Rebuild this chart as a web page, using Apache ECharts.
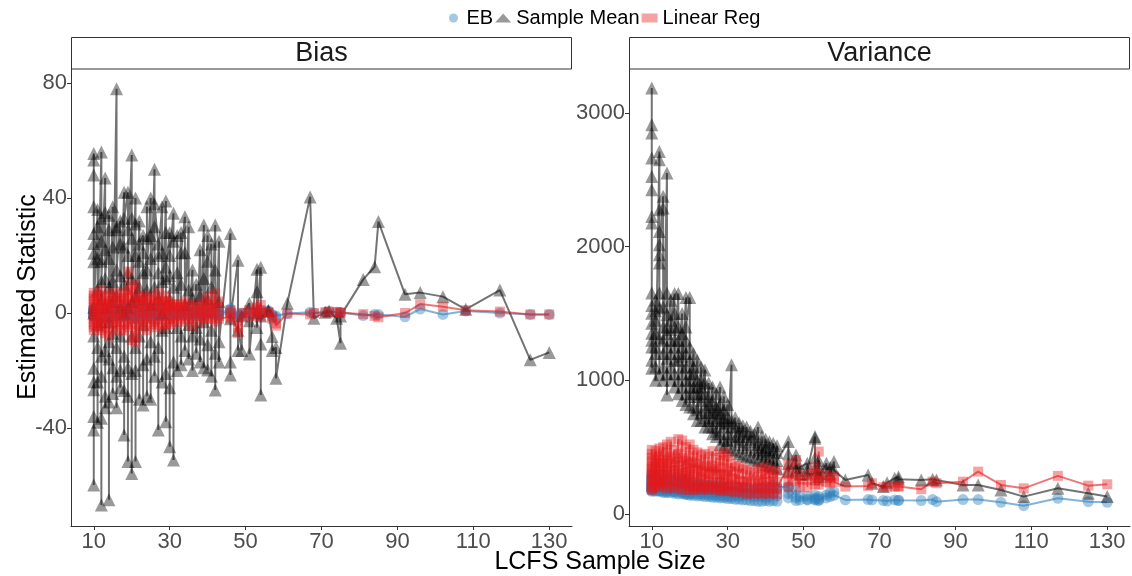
<!DOCTYPE html>
<html><head><meta charset="utf-8">
<script src="https://cdn.jsdelivr.net/npm/echarts@6/dist/echarts.min.js"></script>
<style>html,body{margin:0;padding:0;background:#fff}#c{width:1132px;height:576px}</style>
</head><body><div id="c"></div><script>
// LCFS sample size of each group of areas
const sampleSizes = [10,11,12,13,14,15,16,17,18,19,
 20,21,22,23,24,25,26,27,28,29,
 30,31,32,33,34,35,36,37,38,39,
 40,41,42,43,46,48,49,51,53,54,56,57,58,61,
 67,68,71,72,74,75,81,84,85,92,96,102,108,117,125,130];
const xTicks = [10,30,50,70,90,110,130];
const biasTicks = [-40,0,40,80];
const varTicks = [0,1000,2000,3000];

// ---- Bias panel ----
const biasEB = [
 [1,-1,0.5,-1.5,1.5,0,-0.5,0.8,-1.2,0.3,1.2,-0.8,1.8,-0.2],[1,-0.8,0.3,-1.2,1.4,-0.3,0.6],[1.3,-1.5,0.8,-0.5,1.8,0,-1,0.5,-0.3],[0.8,-1.2,1.2,-0.5,0.3,-1.6,0.5],[1,-1.8,0.5,-0.7,1.4,0,-0.3,0.8],[1.2,-1,0.3,-1.4,0.8,-0.2,1.6],[1.4,-0.7,0.5,-1.2,0,1,-0.5],[1,-1.4,0.7,-0.3,1.6,0,-0.7],[1.2,-1,0.7,-0.2,1.4,-1.4,0.3],[2.5,-0.7,1.2,-1.2,0.5,0,1.8],
 [1.4,-2,0.7,-1,0.3,2,-0.5],[2,-2.2,1,-1.4,0.5,-0.2,-1.8],[1.2,-1,0.5,-0.5,1.4,0],[1,-1.2,0.3,-0.7,0.7,0,1.4],[1.2,-1.4,0.5,-0.5,1,-0.2],[0.7,-1,0.3,-0.5,1.4,0],[1,-0.7,0.5,-1.2,0.3,1.2],[1.2,-1,0,-0.5,0.7,1.6],[0.7,-1.2,0.5,-0.2,1,0],[1.4,-0.7,0.3,-1,0.5,0,1],
 [1,-1,0.5,-0.5,0.3,0.7],[0.7,-0.5,0.3,-0.7,0.5],[0.5,-0.7,0,0.7],[0.7,-0.5,0.3,-0.3,0.5],[0.5,-0.7,0.3,1],[0.7,-0.3,0,-0.5],[0.5,-1.2,0.3,-0.5],[0.7,-0.3,0],[0.5,-0.7,0.3,0],[1,-0.5,0.3,-0.3],
 [1.4,-0.5,0.5,0,0.7],[0.7,-0.5,0.3,0],[1.6,-0.7,0.5,0],[1,-0.3,0.5,-0.5],[1,0.5,0,1.5],[-1.5,-1,-0.5],[0,-0.3],[0,-0.3,0.3],[0.5,0,-0.3,0.5],[0.8,0,-0.3,0.3],[0.8,0.5],[-0.5,-0.8],[-1,-1.6],[-0.2],
 [0.3],[0],[0.3],[0.5],[0.3],[0.2,0.1],[-0.9],[-0.5],[-0.5],[-1.3],[1.4],[-0.5],[0.7],[0],[-0.5],[-0.5]
];
const biasSM = [
 [55.5,-8,53.2,20.8,-59.8,48,37,-19.2,27.7,-36,24.2,-23.9,17.8,2,-40.7,-26.7,0],[36,-12,19,-24,8,-38,30,-4],[56,-15,18,-66.8,33,-36.6,25,-22,5,-3,11],[47,-13,22,-29,35,2,-33,12],[34,-65,29,-16,9,-31,-3,19,-10],[37,-28,23,4,-19,11,-7],[78,-33,29,6,-22,30,-12,15],[32,-20,24,13,-8,-26,2],[42,-42.4,23,-15,10,-27,0,33],[42,-51.7,29,-19,14,2,-29,20],
 [55,-55.8,33,12,-21,26,-8,4],[40,-51.7,20,-20,6,31,-12],[32,-30,18,-8,9,24],[27,-32,14,-18,5,21,-4],[26,-16,37,8,-29,15],[40,-30,19,-10,27,3],[50,-22,30,9,-15,38],[24,-40.7,14,-12,5,20],[37,-24,21,-6,11,0],[39,-37.8,12,-21,28,-5,16],
 [28,-46.5,13,-26,5,20],[34.7,-51.1,9,-17,25],[27,-20,14,-5],[28,-18,10,-8,21],[33.5,-13,21,3],[30,-16,8,-4],[15,-20,5,-8],[10,-5,-14],[22,-17,6,-9],[30.6,-19,12,-3],
 [27,-19.8,5,-11,18],[24,-22,9,-6],[30.6,-26.8,15,-14],[25,-17,4,-10],[27.7,-21.6,-17,-2],[18.4,-13,-6],[-13,-1],[3.4,-2.7,-14.3],[15.2,7.4,-5,0],[15.9,-10.8,-28.5,-1],[0.7,1],[-8.2,-13],[-12,-22.7],[3.4],
 [40.4],[-1.8],[0.3],[0.7],[-1.8],[-10.5,-1],[11.7],[16.1],[31.8],[6.5],[7.1],[5.7],[1.3],[8],[-16.3],[-13.7]
];
const biasLR = [
 [5,-4,2,-6,7,0,-2,3,-5,1,4,-3,6,-1],[4,-3,1,-5,6,-1,2],[6,-6,3,-2,8,0,-4,2,-1],[3,-5,5,-2,1,-7,2],[4,-8,2,-3,6,0,-1,3],[5,-4,1,-6,3,-1,7],[6,-3,2,-5,0,4,-2],[4,-6,3,-1,7,0,-3],[5,-4,3,-1,6,-6,1],[14.4,-3,5,-5,2,0,8],
 [6,-9.4,3,-4,1,9,-2],[9.7,-10,4,-6,2,-1,-8],[5,-4,2,-2,6,0],[4,-5,1,-3,3,0,6],[5,-6,2,-2,4,-1],[3,-4,1,-2,6,0],[4,-3,2,-5,1,5],[5,-4,0,-2,3,7],[3,-5,2,-1,4,0],[6,-3,1,-4,2,0,4],
 [4,-4,2,-2,1,3],[3,-2,1,-3,2],[2,-3,0,3],[3,-2,1,-1,2],[2,-3,1,4],[3,-1,0,-2],[2,-4.8,1,-2],[3,-1,0],[2,-3,1,0],[4,-2,1,-1],
 [5.7,-2,2,0,3],[3,-2,1,0],[6.8,-3,2,0],[4,-1,2,-2],[-1.3,0,-2,1],[-7,-5,-3],[0,-1],[0,-1,1],[1.6,0,-1,2],[2.8,0,-1,1],[0.3,0],[-1.3,-2],[-3.6,-4.4],[-0.2],
 [-0.5],[0],[0.3],[0.5],[0.3],[0.2,0],[-0.4],[-1],[-1.5],[0],[3.1],[2.2],[1],[0.5],[-0.5],[-0.5]
];

// ---- Variance panel ----
const varEB = [
 [250,180,220,300,170,260,200,240,190,280,210,230,175,270,195,215,185],[240,170,210,280,190,230,200,175],[260,175,230,200,290,180,220,245,190,210,170],[230,160,210,270,180,200,240,170],[250,165,220,190,280,175,210,230,160],[240,160,200,260,175,215,190],[230,155,210,180,250,170,200,165],[245,150,200,270,170,220,185],[235,150,195,255,165,210,180,160],[225,145,190,250,160,205,175,150],
 [230,140,185,240,155,200,170,150],[220,140,180,235,155,195,165],[215,135,175,230,150,190],[210,135,170,225,150,185,160],[205,130,165,220,145,180],[200,130,160,215,145,175],[205,125,160,220,140,180],[195,125,155,210,140,170],[200,120,160,215,135,175],[195,120,150,210,135,170,160],
 [190,115,150,205,130,165],[185,115,145,200,130],[180,110,140,195],[185,110,145,200,130],[175,105,140,190],[180,105,140,195],[175,100,135],[170,100,130,185],[180,95,140,195],[170,95,130,185],
 [190,100,140,210,120],[175,95,130,190],[200,100,145,215],[185,95,135,200],[205,192,150,120],[180,120,100],[105,130],[105,130,110],[140,105,120,110],[105,130,115,100],[142,120],[160,130],[167,140],[105],
 [108],[105],[100],[97],[105],[103,100],[100],[108],[92],[108],[108],[87],[62],[117],[92],[87]
];
const varSM = [
 [3188,1300,2913,1653,2851,1091,2664,1428,2526,1503,2427,1353,2227,2177,1250,1560,1150],[1600,1250,1450,1100,1350,1520,1200,1000],[2713,1316,2651,1541,2277,1041,2114,1653,2015,1878,1940],[2377,1200,2290,1400,1100,1550,1300,1000],[2552,1166,1653,1490,891,1350,1250,1050,1400],[1600,1200,1450,1100,1300,1000,1380],[1650,1050,1500,1150,1300,950,1400,1250],[1650,1000,1400,1150,1300,900,1200],[1500,950,1350,1100,1250,850,1180,1050],[1620,900,1300,1000,1200,820,1100,1400],
 [1620,880,1250,1000,1150,800,1050,950],[1200,800,1100,950,1050,750,900],[1150,780,1000,880,950,700],[1100,760,950,850,1000,700,900],[1078,720,900,800,980,650],[980,700,880,760,820,650],[950,650,850,720,780,600],[900,620,800,700,760,580],[950,520,820,680,750,600],[880,560,780,650,720,500,700],
 [820,500,720,600,680,550],[1116,480,700,580,650],[720,470,650,560],[680,450,620,540,580],[660,440,600,520],[650,430,580,500],[620,420,560],[600,410,540,480],[650,400,520,470],[580,390,500,450],
 [560,370,500,430,480],[540,360,470,420],[530,350,480,410],[510,340,460,400],[542,380,450,320],[442,330,380],[300,350],[380,300,330],[579,567,420,330],[305,400,350,280],[380,330],[350,300],[392,330],[255],
 [292],[230],[205],[234],[267],[278,260],[255],[260],[255],[217],[217],[180],[130],[192],[155],[130]
];
const varLR = [
 [480,250,350,200,420,300,180,380,270,330,220,450,310,260,400,190,340],[470,230,350,280,400,200,320,260],[490,240,380,300,200,430,330,270,350,220,410],[500,260,340,210,420,300,380,240],[520,230,400,290,190,350,460,270,320],[540,250,380,300,200,430,330],[480,220,360,280,410,190,320,250],[560,240,390,300,200,450,330],[550,230,370,290,180,420,310,260],[500,220,350,270,400,190,310,240],
 [520,210,380,280,180,430,320,250],[480,200,340,260,390,180,300],[460,210,330,250,380,190],[440,200,320,260,370,180,280],[450,190,310,240,360,210],[430,200,300,250,350,180],[470,190,320,240,360,210],[420,180,300,230,340,200],[440,190,290,240,350,170],[460,180,300,230,400,200,260],
 [430,170,290,220,340,200],[380,170,270,220,320],[350,160,260,210],[360,170,250,200,300],[340,160,240,200],[330,150,250,200],[320,160,240],[310,150,230,190],[340,160,250,200],[320,150,240,190],
 [350,160,260,200,300],[330,150,240,190],[310,160,250,200],[320,150,240,190],[367,250,300,200],[404,250,300],[200,260],[255,200,300],[300,250,350,220],[467,300,250,220],[290,240],[267,230],[280,240],[205],
 [210],[230],[200],[205],[205],[205,210],[185],[242],[230],[242],[317],[217],[192],[285],[212],[222]
];

function pts(groups){
  const out=[];
  const n=Math.min(groups.length, sampleSizes.length);
  for(let i=0;i<n;i++){ for(const v of groups[i]) out.push([sampleSizes[i], v]); }
  return out;
}

const COL = {
  EB:'rgba(49,130,189,0.55)', SM:'rgba(0,0,0,0.5)', LR:'rgba(228,26,28,0.5)'
};
const LINECOL = {
  EB:'rgba(49,130,189,0.6)', SM:'rgba(0,0,0,0.55)', LR:'rgba(228,26,28,0.6)'
};
const FONT = "'Liberation Sans', Arial, Helvetica, sans-serif";

function lineSeries(key, data, gi){
  return {type:'line', name:key+'-line', xAxisIndex:gi, yAxisIndex:gi, data:data,
    showSymbol:false, symbol:'none', silent:true, z:2,
    lineStyle:{color:LINECOL[key], width:2}};
}
const NAMES={EB:'EB',SM:'Sample Mean',LR:'Linear Reg'};
const SYM={EB:'circle',SM:'triangle',LR:'rect'};
const SIZE={EB:11,SM:13,LR:10};
function pointSeries(key, data, gi){
  return {type:'scatter', name:NAMES[key], xAxisIndex:gi, yAxisIndex:gi, data:data,
    symbol:SYM[key], symbolSize:SIZE[key], silent:true, z:3,
    itemStyle:{color:COL[key]}};
}

function xAxis(gi){
  return {type:'value', gridIndex:gi, min:4, max:136, splitLine:{show:false},
    axisLine:{show:true, onZero:false, lineStyle:{color:'#333', width:1}},
    axisTick:{show:true, customValues:xTicks, length:4, lineStyle:{color:'#333'}},
    axisLabel:{customValues:xTicks, fontSize:22, color:'#4d4d4d', margin:5, fontFamily:FONT,
      formatter:v=>String(v)}};
}
function yAxis(gi, mn, mx, ticks){
  return {type:'value', gridIndex:gi, min:mn, max:mx, splitLine:{show:false},
    axisLine:{show:true, onZero:false, lineStyle:{color:'#333', width:1}},
    axisTick:{show:true, customValues:ticks, length:4, lineStyle:{color:'#333'}},
    axisLabel:{customValues:ticks, fontSize:22, color:'#4d4d4d', margin:4, fontFamily:FONT,
      formatter:v=>String(v)}};
}

const chart = echarts.init(document.getElementById('c'), null, {renderer:'canvas'});
const bEB=pts(biasEB), bSM=pts(biasSM), bLR=pts(biasLR);
const vEB=pts(varEB), vSM=pts(varSM), vLR=pts(varLR);

chart.setOption({
  animation:false,
  backgroundColor:'#fff',
  textStyle:{fontFamily:FONT},
  grid:[
    {left:71, top:69, width:501, height:457},
    {left:629, top:69, width:501, height:457}
  ],
  xAxis:[xAxis(0), xAxis(1)],
  yAxis:[yAxis(0,-74.1,84.9,biasTicks), yAxis(1,-90,3330,varTicks)],
  legend:{
    top:3, left:444, itemWidth:16, itemHeight:9, itemGap:2, selectedMode:false,
    textStyle:{fontSize:20, color:'#000', fontFamily:FONT},
    data:[{name:'EB', icon:'circle'},{name:'Sample Mean', icon:'triangle'},{name:'Linear Reg', icon:'rect'}]
  },
  graphic:[
    {type:'rect', shape:{x:71.5, y:37.5, width:500, height:31.5}, style:{fill:'#fff', stroke:'#333', lineWidth:1}, z:10},
    {type:'text', x:321.5, y:53.5, style:{text:'Bias', fontSize:27, fill:'#1a1a1a', align:'center', verticalAlign:'middle', fontFamily:FONT}, z:11},
    {type:'rect', shape:{x:629.5, y:37.5, width:500, height:31.5}, style:{fill:'#fff', stroke:'#333', lineWidth:1}, z:10},
    {type:'text', x:879.5, y:53.5, style:{text:'Variance', fontSize:27, fill:'#1a1a1a', align:'center', verticalAlign:'middle', fontFamily:FONT}, z:11},
    {type:'text', x:28, y:297, rotation:Math.PI/2, style:{text:'Estimated Statistic', fontSize:25, fill:'#000', align:'center', verticalAlign:'middle', fontFamily:FONT}},
    {type:'text', x:600, y:562, style:{text:'LCFS Sample Size', fontSize:25, fill:'#000', align:'center', verticalAlign:'middle', fontFamily:FONT}}
  ],
  series:[
    lineSeries('EB', bEB, 0), lineSeries('SM', bSM, 0), lineSeries('LR', bLR, 0),
    pointSeries('EB', bEB, 0), pointSeries('SM', bSM, 0), pointSeries('LR', bLR, 0),
    lineSeries('EB', vEB, 1), lineSeries('SM', vSM, 1), lineSeries('LR', vLR, 1),
    pointSeries('EB', vEB, 1), pointSeries('SM', vSM, 1), pointSeries('LR', vLR, 1)
  ]
});
</script></body></html>
